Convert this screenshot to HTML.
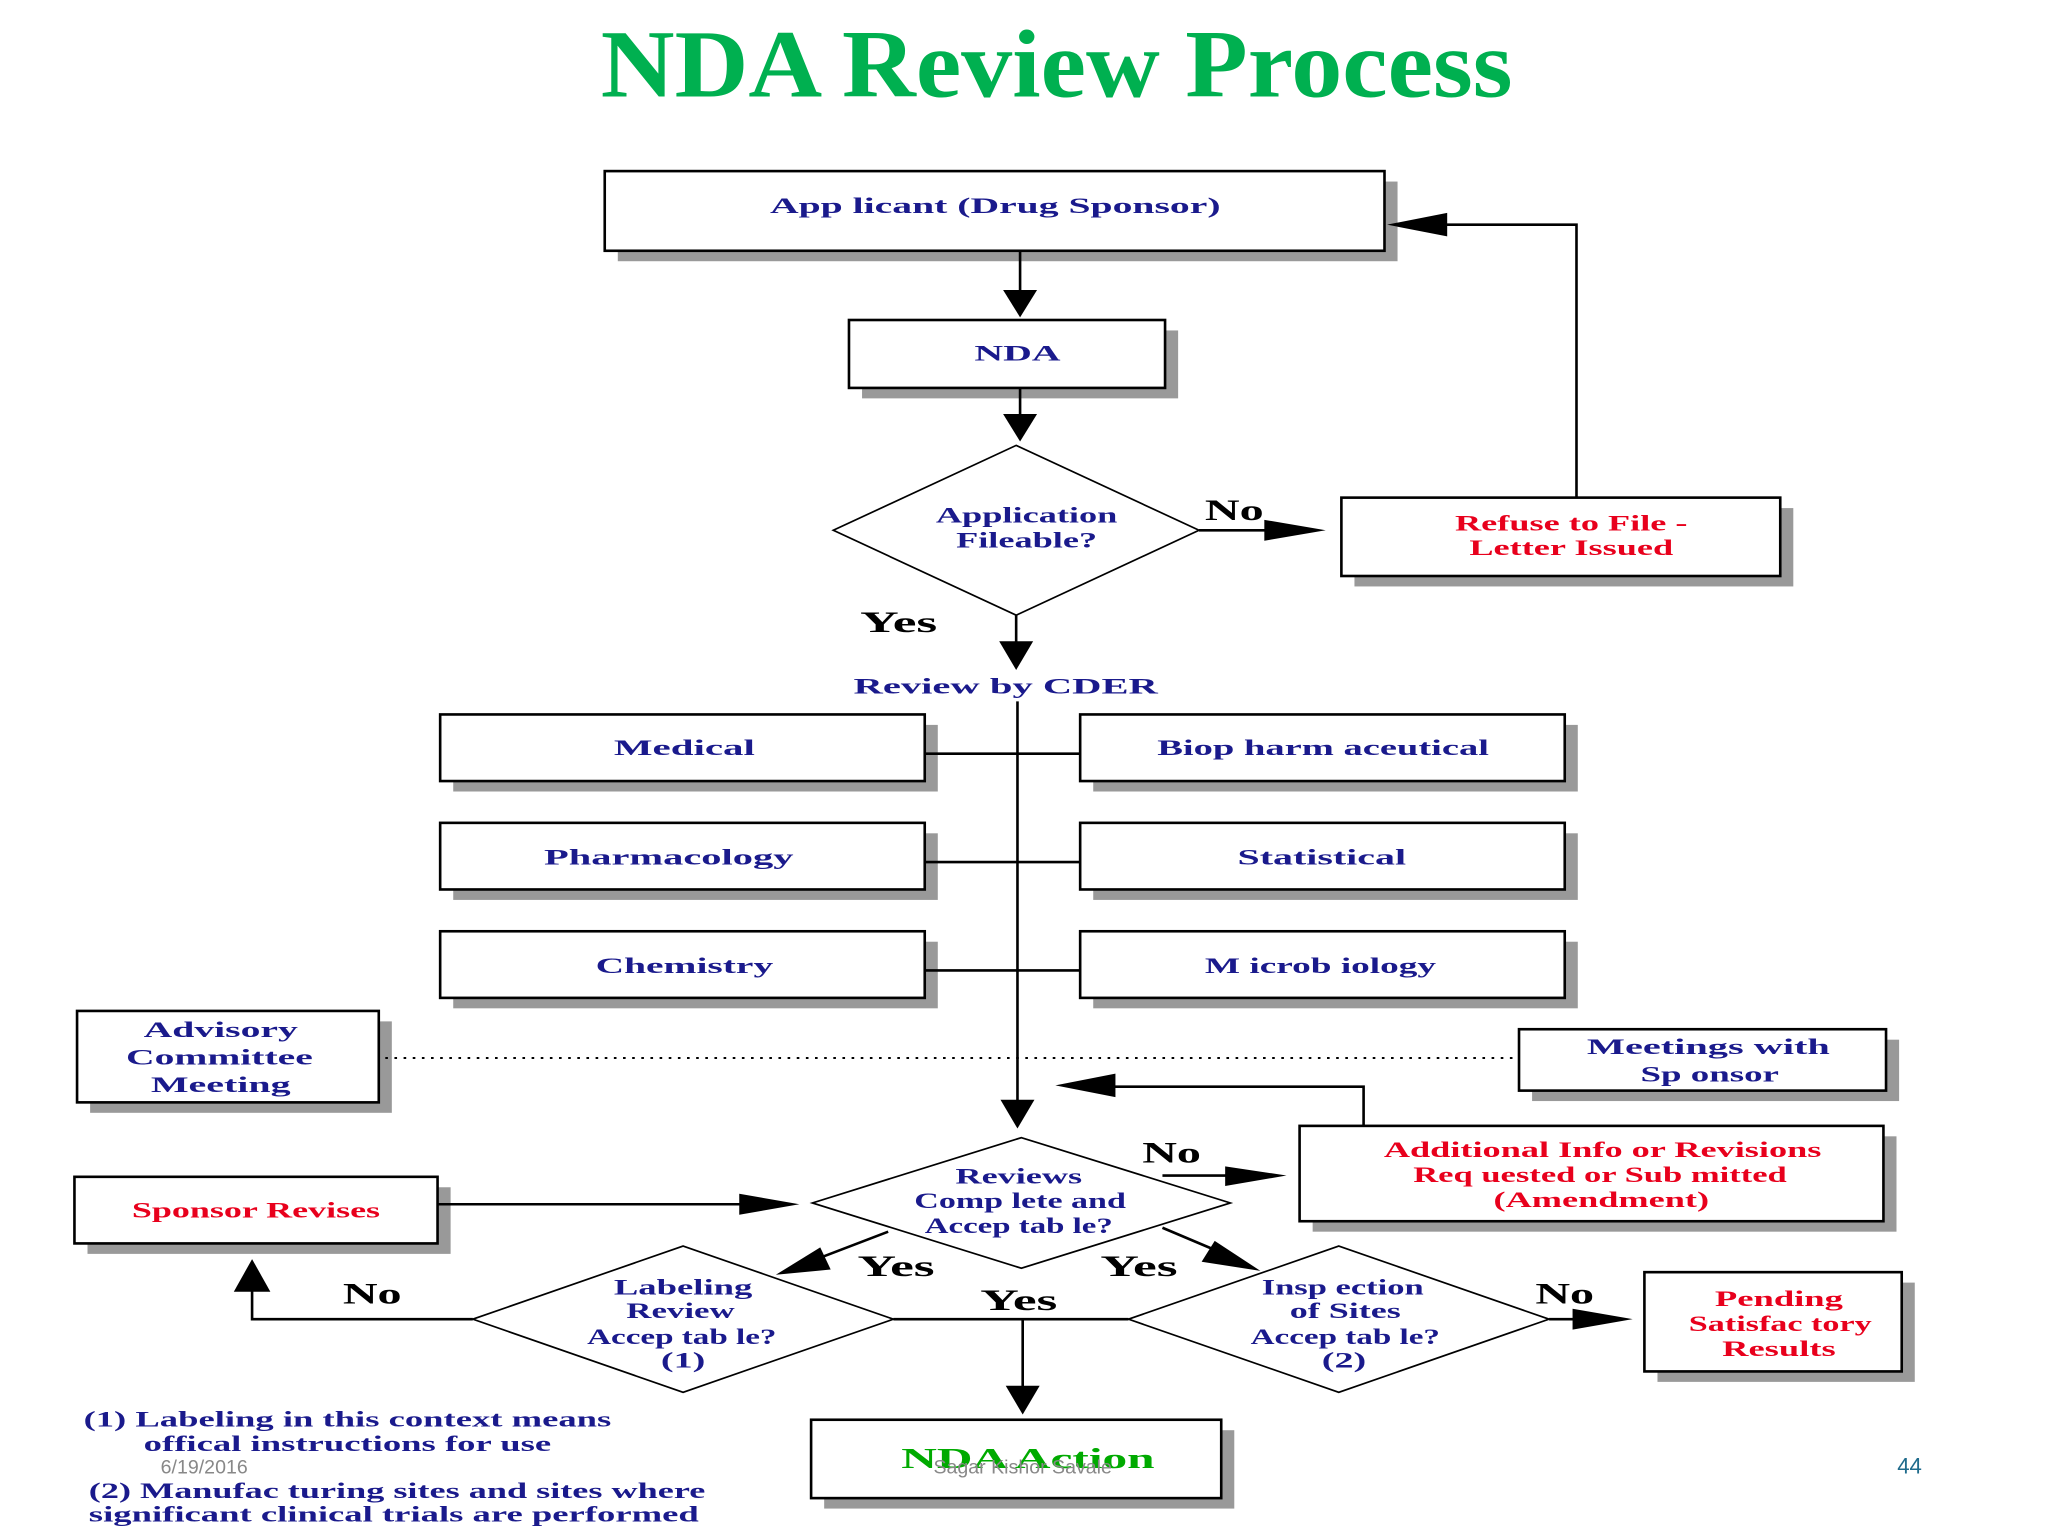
<!DOCTYPE html>
<html><head><meta charset="utf-8"><style>
html,body{margin:0;padding:0;background:#fff;}
svg{display:block;}
text{font-family:"Liberation Serif",serif;font-weight:bold;}
.n{fill:#1a1a8c;font-size:17px;}
.r{fill:#e8001c;font-size:17px;}
.k{fill:#000;font-size:23px;}
.f{fill:#1a1a8c;font-size:17px;}
</style></head><body>
<svg width="2048" height="1536" viewBox="0 0 1568 1176" xmlns="http://www.w3.org/2000/svg">
<rect width="1568" height="1176" fill="#fff"/>
<text x="809" y="74" text-anchor="middle" textLength="698" lengthAdjust="spacingAndGlyphs" style="font-size:74px;fill:#00b050">NDA Review Process</text>

<g fill="#999">
<rect x="473" y="139" width="597" height="61"/>
<rect x="660" y="253" width="242" height="52"/>
<rect x="1037" y="389" width="336" height="60"/>
<rect x="347" y="555" width="371" height="51"/><rect x="837" y="555" width="371" height="51"/>
<rect x="347" y="638" width="371" height="51"/><rect x="837" y="638" width="371" height="51"/>
<rect x="347" y="721" width="371" height="51"/><rect x="837" y="721" width="371" height="51"/>
<rect x="69" y="782" width="231" height="70"/>
<rect x="1173" y="796" width="281" height="47"/>
<rect x="1005" y="870" width="447" height="73"/>
<rect x="67" y="909" width="278" height="51"/>
<rect x="1269" y="982" width="197" height="76"/>
<rect x="631" y="1095" width="314" height="60"/>
</g>
<g fill="#fff" stroke="#000" stroke-width="2">
<rect x="463" y="131" width="597" height="61"/>
<rect x="650" y="245" width="242" height="52"/>
<rect x="1027" y="381" width="336" height="60"/>
<rect x="337" y="547" width="371" height="51"/><rect x="827" y="547" width="371" height="51"/>
<rect x="337" y="630" width="371" height="51"/><rect x="827" y="630" width="371" height="51"/>
<rect x="337" y="713" width="371" height="51"/><rect x="827" y="713" width="371" height="51"/>
<rect x="59" y="774" width="231" height="70"/>
<rect x="1163" y="788" width="281" height="47"/>
<rect x="995" y="862" width="447" height="73"/>
<rect x="57" y="901" width="278" height="51"/>
<rect x="1259" y="974" width="197" height="76"/>
<rect x="621" y="1087" width="314" height="60"/>
</g>
<g fill="#fff" stroke="#000" stroke-width="1.3">
<polygon points="778,341 918,406 778,471 638,406"/>
<polygon points="782,871 942,921 782,971 622,921"/>
<polygon points="523,954 684,1010 523,1066 362,1010"/>
<polygon points="1025,954 1186,1010 1025,1066 864,1010"/>
</g>
<g stroke="#000" stroke-width="2" fill="none">
<line x1="781" y1="192" x2="781" y2="225"/>
<line x1="781" y1="297" x2="781" y2="320"/>
<line x1="918" y1="406" x2="990" y2="406"/>
<polyline points="1207,381 1207,172 1090,172"/>
<line x1="778" y1="471" x2="778" y2="495"/>
<line x1="779" y1="537" x2="779" y2="845"/>
<line x1="708" y1="577" x2="827" y2="577"/><line x1="708" y1="660" x2="827" y2="660"/><line x1="708" y1="743" x2="827" y2="743"/>
<line x1="890" y1="900" x2="960" y2="900"/>
<polyline points="1044,862 1044,832 835,832"/>
<line x1="335" y1="922" x2="585" y2="922"/>
<line x1="680" y1="943" x2="620" y2="966"/>
<line x1="890" y1="940" x2="942" y2="962"/>
<line x1="684" y1="1010" x2="864" y2="1010"/>
<line x1="783" y1="1010" x2="783" y2="1065"/>
<polyline points="362,1010 193,1010 193,988"/>
<line x1="1186" y1="1010" x2="1225" y2="1010"/>
</g>
<line x1="295" y1="810" x2="1160" y2="810" stroke="#000" stroke-width="1.5" stroke-dasharray="2,5"/>
<g fill="#000">
<polygon points="768,222 794,222 781,243"/>
<polygon points="768,317 794,317 781,338"/>
<polygon points="968,398 968,414 1015,406"/>
<polygon points="1062,172 1108,163 1108,181"/>
<polygon points="765,491 791,491 778,513"/>
<polygon points="766,842 792,842 779,864"/>
<polygon points="938,893 938,908 985,900"/>
<polygon points="808,831 854,822 854,840"/>
<polygon points="566,914 566,930 612,922"/>
<polygon points="594,976 628,955 636,972"/>
<polygon points="965,973 920,966 930,950"/>
<polygon points="770,1061 796,1061 783,1083"/>
<polygon points="179,989 207,989 193,964"/>
<polygon points="1204,1002 1204,1018 1250,1010"/>
</g>
<g text-anchor="middle" lengthAdjust="spacingAndGlyphs">
<text class="n" x="762" y="163" textLength="345" lengthAdjust="spacingAndGlyphs">App licant (Drug Sponsor)</text>
<text class="n" x="779" y="276" textLength="66" lengthAdjust="spacingAndGlyphs">NDA</text>
<text class="n" x="786" y="400" textLength="139" lengthAdjust="spacingAndGlyphs">Application</text>
<text class="n" x="786" y="419" textLength="108" lengthAdjust="spacingAndGlyphs">Fileable?</text>
<text class="k" x="945" y="398" textLength="45" lengthAdjust="spacingAndGlyphs">No</text>
<text class="r" x="1203" y="406" textLength="178" lengthAdjust="spacingAndGlyphs">Refuse to File -</text>
<text class="r" x="1203" y="425" textLength="156" lengthAdjust="spacingAndGlyphs">Letter Issued</text>
<text class="k" x="688" y="484" textLength="59" lengthAdjust="spacingAndGlyphs">Yes</text>
<text class="n" x="770" y="531" textLength="233" lengthAdjust="spacingAndGlyphs">Review by CDER</text>
<text class="n" x="524" y="578" textLength="108" lengthAdjust="spacingAndGlyphs">Medical</text>
<text class="n" x="1013" y="578" textLength="254" lengthAdjust="spacingAndGlyphs">Biop harm aceutical</text>
<text class="n" x="512" y="662" textLength="191" lengthAdjust="spacingAndGlyphs">Pharmacology</text>
<text class="n" x="1012" y="662" textLength="129" lengthAdjust="spacingAndGlyphs">Statistical</text>
<text class="n" x="524" y="745" textLength="136" lengthAdjust="spacingAndGlyphs">Chemistry</text>
<text class="n" x="1011" y="745" textLength="177" lengthAdjust="spacingAndGlyphs">M icrob iology</text>
<text class="n" x="169" y="794" textLength="118" lengthAdjust="spacingAndGlyphs">Advisory</text>
<text class="n" x="168" y="815" textLength="143" lengthAdjust="spacingAndGlyphs">Committee</text>
<text class="n" x="169" y="836" textLength="107" lengthAdjust="spacingAndGlyphs">Meeting</text>
<text class="n" x="1308" y="807" textLength="186" lengthAdjust="spacingAndGlyphs">Meetings with</text>
<text class="n" x="1309" y="828" textLength="106" lengthAdjust="spacingAndGlyphs">Sp onsor</text>
<text class="n" x="780" y="906" textLength="97" lengthAdjust="spacingAndGlyphs">Reviews</text>
<text class="n" x="781" y="925" textLength="162" lengthAdjust="spacingAndGlyphs">Comp lete and</text>
<text class="n" x="780" y="944" textLength="144" lengthAdjust="spacingAndGlyphs">Accep tab le?</text>
<text class="k" x="897" y="890" textLength="45" lengthAdjust="spacingAndGlyphs">No</text>
<text class="r" x="1227" y="886" textLength="335" lengthAdjust="spacingAndGlyphs">Additional Info or Revisions</text>
<text class="r" x="1225" y="905" textLength="286" lengthAdjust="spacingAndGlyphs">Req uested or Sub mitted</text>
<text class="r" x="1226" y="924" textLength="165" lengthAdjust="spacingAndGlyphs">(Amendment)</text>
<text class="r" x="196" y="932" textLength="190" lengthAdjust="spacingAndGlyphs">Sponsor Revises</text>
<text class="k" x="686" y="977" textLength="59" lengthAdjust="spacingAndGlyphs">Yes</text>
<text class="k" x="872" y="977" textLength="59" lengthAdjust="spacingAndGlyphs">Yes</text>
<text class="k" x="780" y="1003" textLength="59" lengthAdjust="spacingAndGlyphs">Yes</text>
<text class="k" x="285" y="998" textLength="45" lengthAdjust="spacingAndGlyphs">No</text>
<text class="k" x="1198" y="998" textLength="45" lengthAdjust="spacingAndGlyphs">No</text>
<text class="n" x="523" y="991" textLength="106" lengthAdjust="spacingAndGlyphs">Labeling</text>
<text class="n" x="521" y="1009" textLength="83" lengthAdjust="spacingAndGlyphs">Review</text>
<text class="n" x="522" y="1029" textLength="145" lengthAdjust="spacingAndGlyphs">Accep tab le?</text>
<text class="n" x="523" y="1047" textLength="34" lengthAdjust="spacingAndGlyphs">(1)</text>
<text class="n" x="1028" y="991" textLength="124" lengthAdjust="spacingAndGlyphs">Insp ection</text>
<text class="n" x="1030" y="1009" textLength="85" lengthAdjust="spacingAndGlyphs">of Sites</text>
<text class="n" x="1030" y="1029" textLength="145" lengthAdjust="spacingAndGlyphs">Accep tab le?</text>
<text class="n" x="1029" y="1047" textLength="34" lengthAdjust="spacingAndGlyphs">(2)</text>
<text class="r" x="1362" y="1000" textLength="98" lengthAdjust="spacingAndGlyphs">Pending</text>
<text class="r" x="1363" y="1019" textLength="140" lengthAdjust="spacingAndGlyphs">Satisfac tory</text>
<text class="r" x="1362" y="1038" textLength="87" lengthAdjust="spacingAndGlyphs">Results</text>
<text x="787" y="1124" textLength="194" lengthAdjust="spacingAndGlyphs" style="font-size:22px;fill:#00aa00">NDA Action</text>
<text x="783" y="1128" style="font-family:'Liberation Sans',sans-serif;font-weight:normal;font-size:15px;fill:#888">Sagar Kishor Savale</text>
<text x="1462" y="1128" style="font-family:'Liberation Sans',sans-serif;font-weight:normal;font-size:17px;fill:#1f6b8c">44</text>
</g>
<text class="f" x="64" y="1092" textLength="404" lengthAdjust="spacingAndGlyphs">(1) Labeling in this context means</text>
<text class="f" x="110" y="1111" textLength="312" lengthAdjust="spacingAndGlyphs">offical instructions for use</text>
<text x="123" y="1128" style="font-family:'Liberation Sans',sans-serif;font-weight:normal;font-size:15px;fill:#888">6/19/2016</text>
<text class="f" x="68" y="1147" textLength="472" lengthAdjust="spacingAndGlyphs">(2) Manufac turing sites and sites where</text>
<text class="f" x="68" y="1165" textLength="467" lengthAdjust="spacingAndGlyphs">significant clinical trials are performed</text>
</svg>
</body></html>
